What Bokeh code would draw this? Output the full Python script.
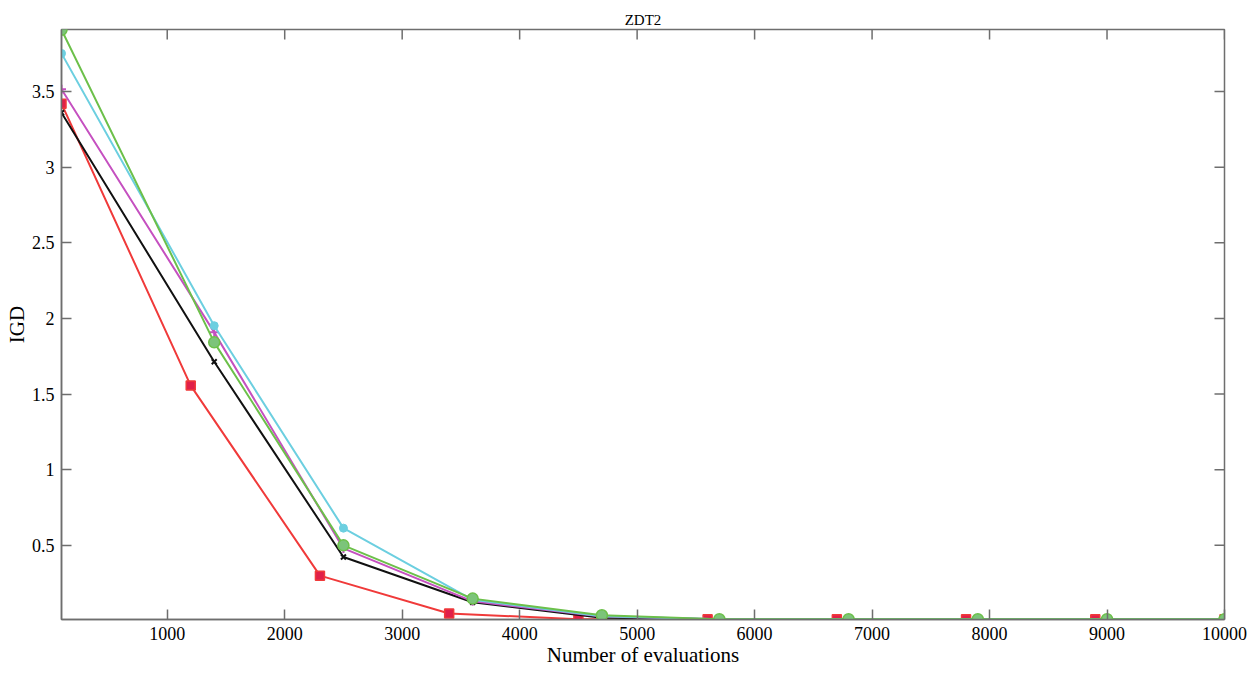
from bokeh.plotting import figure
from bokeh.models import Range1d, FixedTicker
from bokeh.embed import file_html
from bokeh.resources import INLINE

# Data
x_red = [100, 1200, 2300, 3400, 4500, 5600, 6700, 7800, 8900, 10000]
x_other = [100, 1400, 2500, 3600, 4700, 5700, 6800, 7900, 9000, 10000]

y_red = [3.42, 1.556, 0.30, 0.05, 0.012, 0.012, 0.012, 0.012, 0.012, 0.012]
y_black = [3.36, 1.714, 0.423, 0.124, 0.022, 0.012, 0.012, 0.012, 0.012, 0.012]
y_magenta = [3.515, 1.908, 0.48, 0.13, 0.03, 0.012, 0.012, 0.012, 0.012, 0.012]
y_cyan = [3.752, 1.952, 0.614, 0.14, 0.032, 0.012, 0.012, 0.012, 0.012, 0.012]
y_green = [3.908, 1.842, 0.50, 0.148, 0.038, 0.012, 0.012, 0.012, 0.012, 0.012]

x_ticks = [1000, 2000, 3000, 4000, 5000, 6000, 7000, 8000, 9000, 10000]
y_ticks = [0.5, 1.0, 1.5, 2.0, 2.5, 3.0, 3.5]

X0, X1 = 100, 10000
Y0, Y1 = 0.01, 3.91

FONT = "Liberation Serif"
AXC = "#6e6e6e"

W, H = 1249, 673
BL, BR, BT, BB = 61, 25, 29, 54

p = figure(width=W, height=H,
           min_border_left=BL, min_border_right=BR, min_border_top=BT, min_border_bottom=BB,
           x_range=Range1d(X0, X1), y_range=Range1d(Y0, Y1),
           output_backend="svg", toolbar_location=None, title="ZDT2")

p.title.align = "center"
p.title.text_font = FONT
p.title.text_font_size = "15px"
p.title.text_font_style = "normal"
p.title.text_color = "black"
p.title.standoff = 4

p.xgrid.visible = False
p.ygrid.visible = False
p.outline_line_color = AXC
p.outline_line_width = 1.5
p.outline_line_alpha = 1.0

p.xaxis.ticker = FixedTicker(ticks=x_ticks)
p.yaxis.ticker = FixedTicker(ticks=y_ticks)
p.xaxis.axis_label = "Number of evaluations"
p.yaxis.axis_label = "IGD"

for ax in [p.xaxis[0], p.yaxis[0]]:
    ax.axis_line_color = AXC
    ax.axis_line_width = 1.5
    ax.major_tick_line_color = AXC
    ax.major_tick_line_width = 1.5
    ax.major_tick_in = 10
    ax.major_tick_out = 0
    ax.minor_tick_line_color = None
    ax.major_label_text_font = FONT
    ax.major_label_text_font_size = "18px"
    ax.major_label_text_color = "black"
    ax.axis_label_text_font = FONT
    ax.axis_label_text_font_size = "21px"
    ax.axis_label_text_font_style = "normal"
    ax.axis_label_text_color = "black"
p.xaxis.major_label_standoff = 7
p.xaxis.axis_label_standoff = 0
p.yaxis.major_label_standoff = 7
p.yaxis.axis_label_standoff = 0

# mirrored inward ticks on top and right edges (10 px long)
frame_w = W - BL - BR
frame_h = H - BT - BB
tick_dy = 10 * (Y1 - Y0) / frame_h
tick_dx = 10 * (X1 - X0) / frame_w
p.segment(x0=x_ticks, x1=x_ticks, y0=[Y1] * len(x_ticks), y1=[Y1 - tick_dy] * len(x_ticks),
          line_color=AXC, line_width=1.5)
p.segment(x0=[X1] * len(y_ticks), x1=[X1 - tick_dx] * len(y_ticks), y0=y_ticks, y1=y_ticks,
          line_color=AXC, line_width=1.5)

GREEN = "#6cc04a"
CYAN = "#6ccfe0"
MAG = "#c550c0"
BLACK = "#111111"
RED = "#f03a3a"

# red
p.line(x_red, y_red, line_color=RED, line_width=2)
p.scatter(x_red, y_red, marker="square", size=9, fill_color="#e0204a", line_color=RED, line_width=1.5)
# black
p.line(x_other, y_black, line_color=BLACK, line_width=2)
p.scatter(x_other, y_black, marker="x", size=7, line_color=BLACK, line_width=2)
# magenta
p.line(x_other, y_magenta, line_color=MAG, line_width=2)
p.scatter(x_other, y_magenta, marker="cross", size=9, line_color=MAG, line_width=2)
# cyan
p.line(x_other, y_cyan, line_color=CYAN, line_width=2)
p.scatter(x_other, y_cyan, marker="circle", size=8, fill_color=CYAN, line_color=CYAN)
# green
p.line(x_other, y_green, line_color=GREEN, line_width=2)
p.scatter(x_other, y_green, marker="circle", size=11, fill_color="#7cc47a", line_color=GREEN, line_width=1.5)

open("out.html", "w").write(file_html(p, INLINE))
